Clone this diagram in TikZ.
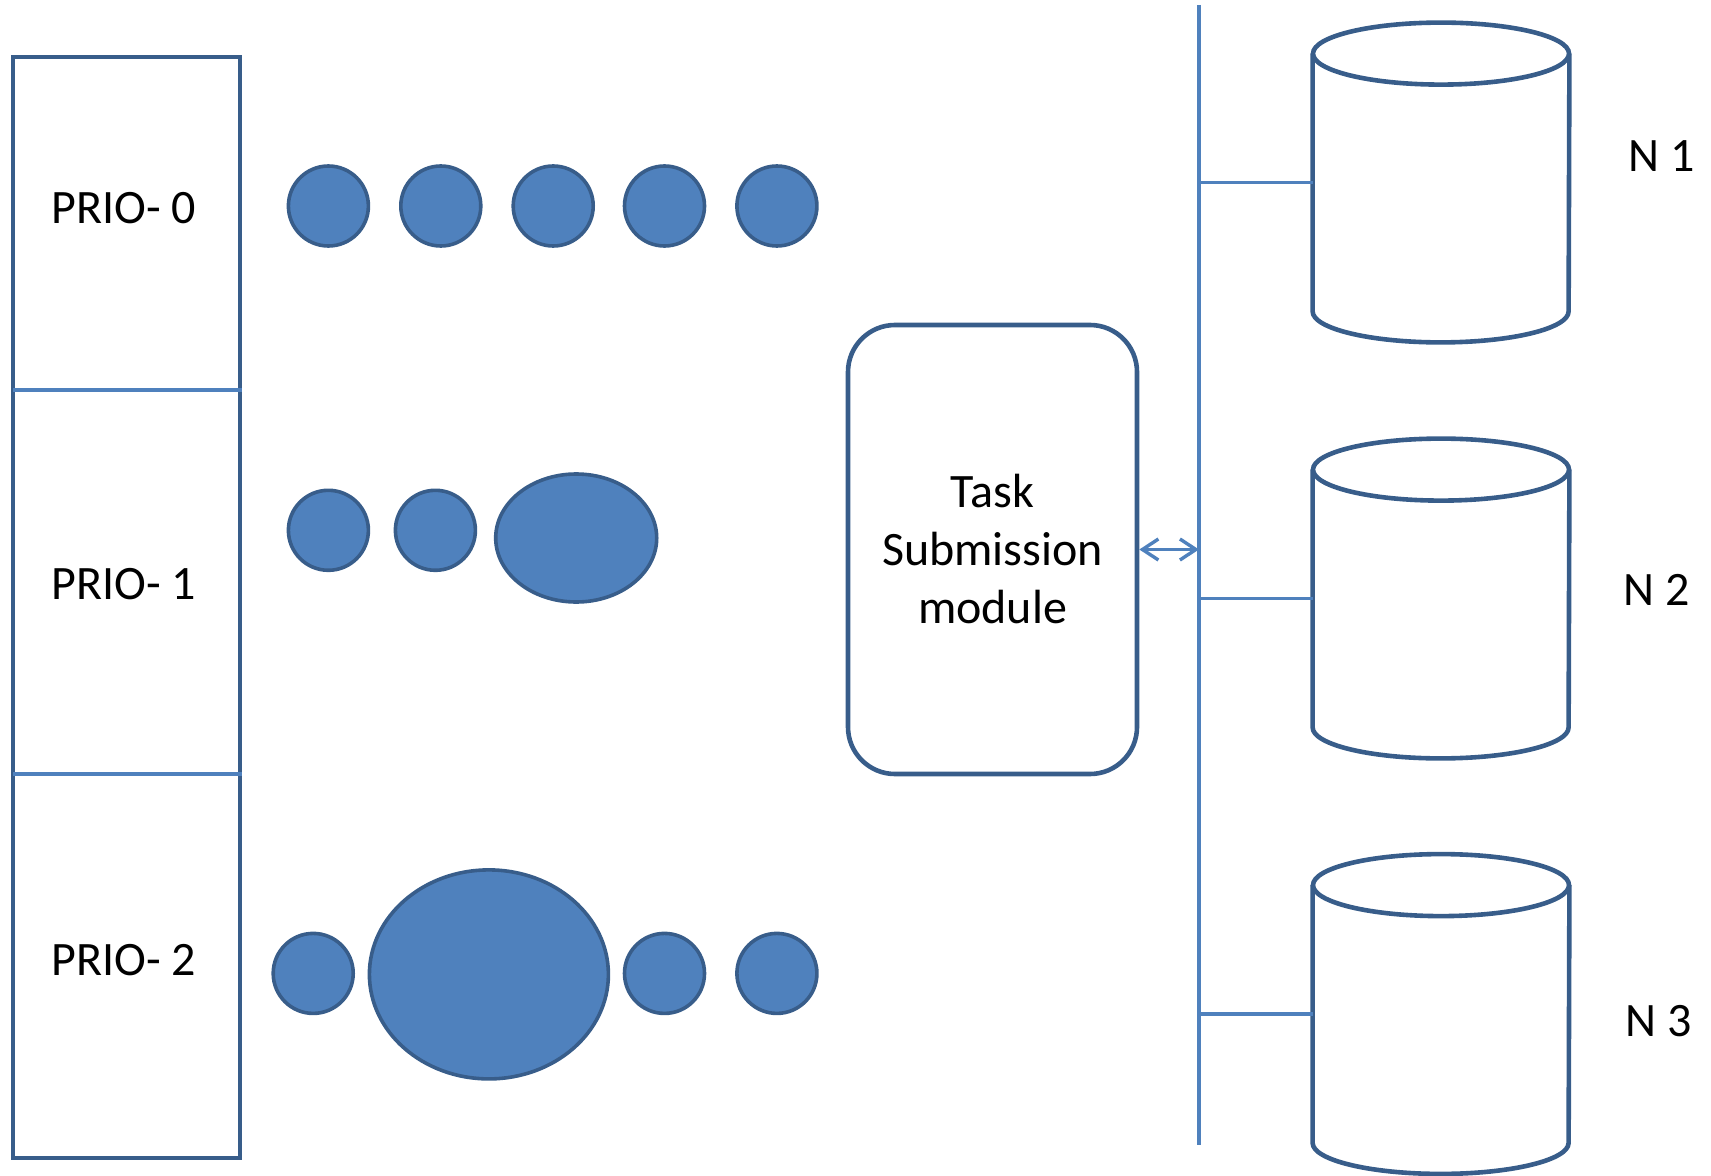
\documentclass[tikz,border=0pt]{standalone}
\usepackage{fontspec}
\setmainfont{Carlito}
\usetikzlibrary{arrows.meta,shapes.geometric}
\definecolor{edgeblue}{RGB}{56,93,138}
\definecolor{fillblue}{RGB}{79,129,189}
\tikzset{
  outline/.style={draw=edgeblue, line width=2.3pt},
  thinline/.style={draw=fillblue, line width=1.6pt},
  job/.style={circle, draw=edgeblue, fill=fillblue, line width=1.8pt, minimum size=40pt, inner sep=0pt},
  bigjob/.style={ellipse, draw=edgeblue, fill=fillblue, line width=1.8pt, inner sep=0pt},
  lbl/.style={font=\fontsize{24}{29}\selectfont, inner sep=0pt},
  cylbody/.style={minimum width=128pt, minimum height=128.5pt, inner sep=0pt},
}
\newcommand{\drawdrum}[1]{%
  \draw[outline] (#1.north west) -- (#1.south west)
    arc[start angle=180, end angle=360, x radius=64pt, y radius=15.5pt]
    -- (#1.north east);
  \draw[outline] (#1.north) ellipse [x radius=64pt, y radius=15.5pt];
}
\begin{document}
\begin{tikzpicture}[x=0.5pt, y=0.5pt]
\useasboundingbox (0,0) rectangle (1711,1175);

% priority queue column
\node[outline, rectangle, minimum width=113.5pt, minimum height=550.5pt, inner sep=0pt] (queue) at (126.5,567.5) {};
\coordinate (d0) at (13,785);
\coordinate (d1) at (13,401);
\draw[thinline] (d0) -- (d0 -| queue.east);
\draw[thinline] (d1) -- (d1 -| queue.east);
\node[lbl] (p0) at (124,967) {PRIO- 0};
\node[lbl] (p1) at (124,591) {PRIO- 1};
\node[lbl] (p2) at (124,215) {PRIO- 2};

% jobs waiting in each priority level
\node[job] (a1) at (328.4,969) {};
\node[job] (a2) at (440.8,969) {};
\node[job] (a3) at (553.2,969) {};
\node[job] (a4) at (664.5,969) {};
\node[job] (a5) at (776.9,969) {};

\node[job] (b1) at (328.4,644.7) {};
\node[job] (b2) at (435.4,644.7) {};
\node[bigjob, minimum width=80.5pt, minimum height=64pt] (b3) at (576.2,637) {};

\node[job] (c1) at (313.2,201.6) {};
\node[bigjob, minimum width=119.5pt, minimum height=104.5pt] (c2) at (488.9,200.6) {};
\node[job] (c3) at (664.5,201.6) {};
\node[job] (c4) at (776.9,201.6) {};

% task submission module
\node[outline, rectangle, rounded corners=23.5pt, minimum width=144.5pt, minimum height=224.5pt,
      lbl, align=center] (tsm) at (992.5,625.5) {Task\\Submission\\module};

% bus line
\coordinate (bustop) at (1199,1170);
\coordinate (busbot) at (1199,30);
\draw[thinline] (bustop) -- (busbot);
\draw[thinline, line width=1.7pt, {Straight Barb[length=8pt,width=10.5pt]}-{Straight Barb[length=8pt,width=10.5pt]}]
  (tsm.east) -- (tsm.east -| bustop);

% nodes
\node[cylbody] (n1) at (1441,992.5) {};
\node[cylbody] (n2) at (1441,576.5) {};
\node[cylbody] (n3) at (1441,161) {};
\drawdrum{n1}
\drawdrum{n2}
\drawdrum{n3}
\draw[thinline] (n1.west -| bustop) -- (n1.west);
\draw[thinline] (n2.west -| bustop) -- (n2.west);
\draw[thinline] (n3.west -| bustop) -- (n3.west);

\node[lbl] (l1) at (1662,1019) {N 1};
\node[lbl] (l2) at (1657,585) {N 2};
\node[lbl] (l3) at (1659,154) {N 3};
\end{tikzpicture}
\end{document}
